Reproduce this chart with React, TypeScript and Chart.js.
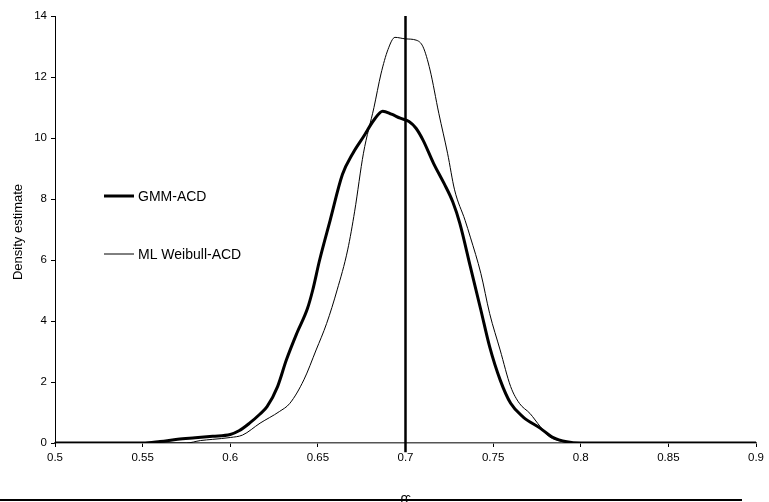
import React, { useEffect, useRef } from "react";
import { Chart, registerables } from "chart.js";

Chart.register(...registerables);

const gmmX = [0.5, 0.55, 0.56, 0.57, 0.58, 0.59, 0.6, 0.605, 0.611, 0.617, 0.621, 0.627, 0.632, 0.638, 0.644, 0.647, 0.651, 0.657, 0.664, 0.67, 0.676, 0.682, 0.687, 0.692, 0.697, 0.702, 0.706, 0.71, 0.716, 0.722, 0.727, 0.731, 0.737, 0.743, 0.748, 0.754, 0.76, 0.767, 0.777, 0.784, 0.792, 0.8, 0.9];
const gmmY = [0, 0, 0.05, 0.12, 0.17, 0.22, 0.28, 0.4, 0.65, 0.95, 1.19, 1.85, 2.72, 3.6, 4.4, 5.0, 6.0, 7.3, 8.8, 9.5, 10.04, 10.59, 10.88, 10.78, 10.65, 10.54, 10.32, 9.93, 9.17, 8.51, 7.9, 7.2, 5.78, 4.36, 3.16, 2.07, 1.3, 0.86, 0.48, 0.19, 0.04, 0, 0];

const weibX = [0.5, 0.575, 0.583, 0.59, 0.6, 0.607, 0.617, 0.628, 0.634, 0.642, 0.649, 0.655, 0.661, 0.667, 0.671, 0.676, 0.682, 0.686, 0.69, 0.694, 0.7, 0.706, 0.71, 0.714, 0.719, 0.724, 0.728, 0.734, 0.737, 0.743, 0.748, 0.754, 0.76, 0.765, 0.771, 0.777, 0.782, 0.79, 0.8, 0.9];
const weibY = [0, 0, 0.08, 0.12, 0.18, 0.26, 0.65, 1.03, 1.3, 2.07, 3.05, 3.92, 5.02, 6.33, 7.6, 9.5, 11.0, 12.1, 12.9, 13.3, 13.25, 13.21, 12.99, 12.23, 10.81, 9.5, 8.3, 7.3, 6.75, 5.56, 4.25, 3.05, 1.85, 1.3, 0.97, 0.53, 0.21, 0.04, 0, 0];

const refX = [0.7, 0.7];
const refY = [-0.3, 14];

const seriesLabels = ["GMM-ACD", "ML Weibull-ACD"];
const yTitle = "Density estimate";
const xTitle = "β̂₁₁";

const FONT = "'Liberation Sans', Arial, sans-serif";

const zip = (xs: number[], ys: number[]) => xs.map((x, i) => ({ x, y: ys[i] }));

const overlay = {
  id: "overlay",
  afterDraw(chart: any) {
    const ctx = chart.ctx;
    const ca = chart.chartArea;
    ctx.save();
    const items = [
      { label: seriesLabels[0], w: 3, y: 196 },
      { label: seriesLabels[1], w: 1, y: 254 },
    ];
    ctx.font = `14px ${FONT}`;
    ctx.textBaseline = "middle";
    ctx.fillStyle = "#000";
    items.forEach((it) => {
      ctx.strokeStyle = "#000";
      ctx.lineWidth = it.w;
      ctx.beginPath();
      ctx.moveTo(104, it.y);
      ctx.lineTo(134, it.y);
      ctx.stroke();
      ctx.fillText(it.label, 138, it.y + 1);
    });
    ctx.save();
    ctx.translate(18, 232);
    ctx.rotate(-Math.PI / 2);
    ctx.textAlign = "center";
    ctx.font = `13px ${FONT}`;
    ctx.fillText(yTitle, 0, 0);
    ctx.restore();
    ctx.textAlign = "center";
    ctx.textBaseline = "alphabetic";
    ctx.font = `14px ${FONT}`;
    ctx.fillText(xTitle, 409, 506);
    ctx.fillRect(0, 499, 742, 2);
    ctx.restore();
  },
};

export default function App() {
  const ref = useRef<HTMLCanvasElement>(null);
  useEffect(() => {
    document.body.style.margin = "0";
    const chart = new Chart(ref.current!, {
      type: "line",
      data: {
        datasets: [
          {
            label: seriesLabels[0],
            data: zip(gmmX, gmmY),
            borderColor: "#000",
            borderWidth: 3,
            pointRadius: 0,
            cubicInterpolationMode: "monotone",
            fill: false,
          },
          {
            label: seriesLabels[1],
            data: zip(weibX, weibY),
            borderColor: "#000",
            borderWidth: 1,
            pointRadius: 0,
            cubicInterpolationMode: "monotone",
            fill: false,
          },
          {
            label: "ref",
            data: zip(refX, refY),
            borderColor: "#000",
            borderWidth: 2.5,
            pointRadius: 0,
            clip: false,
            fill: false,
          } as any,
        ],
      },
      options: {
        animation: false,
        responsive: false,
        parsing: false as any,
        layout: { padding: { top: 16, right: 13, left: 0, bottom: 0 } },
        plugins: { legend: { display: false }, tooltip: { enabled: false } },
        scales: {
          x: {
            type: "linear",
            min: 0.5,
            max: 0.9,
            afterFit: (s: any) => { s.height = 59; },
            ticks: {
              stepSize: 0.05,
              color: "#000",
              font: { family: FONT, size: 11.5 },
              padding: 4,
              maxRotation: 0,
              callback: (v: any) => String(Number(Number(v).toFixed(2))),
            },
            grid: { drawOnChartArea: false, drawTicks: true, tickLength: 4, color: "#000" },
            border: { color: "#555", width: 1.5 },
          },
          y: {
            min: 0,
            max: 14,
            afterFit: (s: any) => { s.width = 55; },
            ticks: {
              stepSize: 2,
              color: "#000",
              font: { family: FONT, size: 11.5 },
              padding: 4,
            },
            grid: { drawOnChartArea: false, drawTicks: true, tickLength: 4, color: "#000" },
            border: { color: "#000", width: 1 },
          },
        },
      },
      plugins: [overlay],
    });
    return () => chart.destroy();
  }, []);
  return (
    <div style={{ position: "absolute", left: 0, top: 0, width: 769, height: 502, background: "#fff" }}>
      <canvas ref={ref} width={769} height={502} style={{ display: "block" }} />
    </div>
  );
}
